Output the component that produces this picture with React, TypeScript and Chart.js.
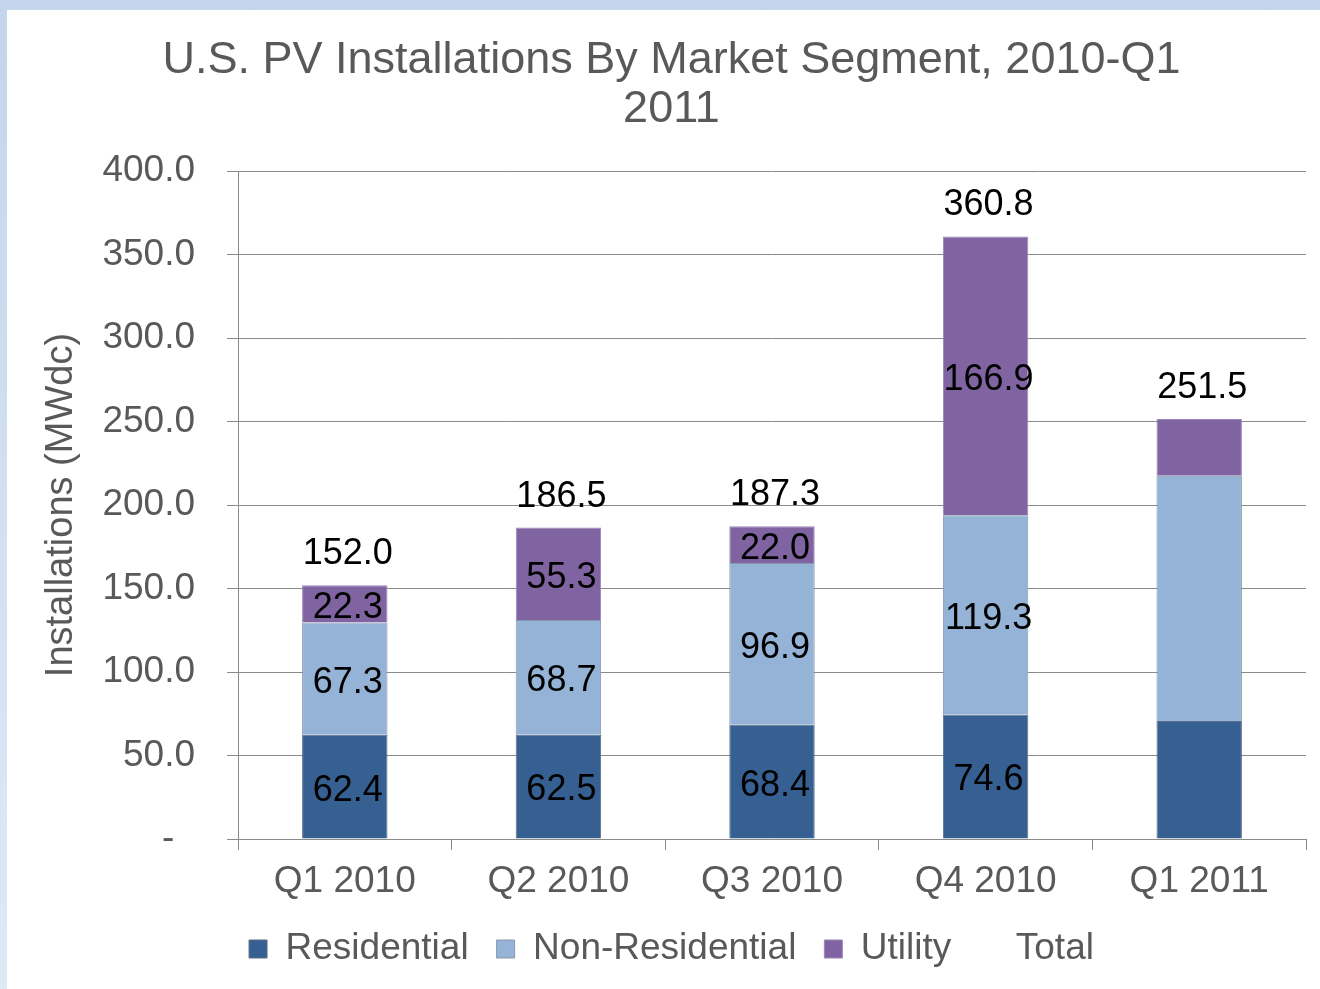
import React, { useEffect, useRef } from 'react';
import { Chart, registerables } from 'chart.js';

Chart.register(...registerables);

const categories = ['Q1 2010', 'Q2 2010', 'Q3 2010', 'Q4 2010', 'Q1 2011'];
const residential = [62.4, 62.5, 68.4, 74.6, 70.6];
const nonResidential = [67.3, 68.7, 96.9, 119.3, 147.0];
const utility = [22.3, 55.3, 22.0, 166.9, 33.9];
const totals = [152.0, 186.5, 187.3, 360.8, 251.5];
const segmentLabelShown = [true, true, true, true, false];
const yTickValues = [0, 50, 100, 150, 200, 250, 300, 350, 400];
const yTickLabels = ['-  ', '50.0', '100.0', '150.0', '200.0', '250.0', '300.0', '350.0', '400.0'];

const FONT = '"Liberation Sans", Arial, sans-serif';
const GRAY_TEXT = '#595959';
const GRID = '#8a8a8a';

const labelPlugin = {
  id: 'segLabels',
  afterDatasetsDraw(chart: any) {
    const ctx = chart.ctx;
    ctx.save();
    ctx.font = `36px ${FONT}`;
    ctx.fillStyle = '#000000';
    ctx.textAlign = 'center';
    ctx.textBaseline = 'middle';
    [0, 1, 2].forEach((di) => {
      const meta = chart.getDatasetMeta(di);
      meta.data.forEach((el: any, i: number) => {
        if (!segmentLabelShown[i]) return;
        const p = el.getProps(['x', 'y', 'base'], true);
        const v = chart.data.datasets[di].data[i] as number;
        ctx.fillText(v.toFixed(1), p.x + 3, (p.y + p.base) / 2 + 4);
      });
    });
    const tm = chart.getDatasetMeta(3);
    tm.data.forEach((el: any, i: number) => {
      ctx.fillText(totals[i].toFixed(1), el.x + 3, el.y - 31);
    });
    ctx.restore();
  },
};

export default function App() {
  const ref = useRef<HTMLCanvasElement | null>(null);

  useEffect(() => {
    if (!ref.current) return;
    const chart = new Chart(ref.current, {
      type: 'bar',
      data: {
        labels: categories,
        datasets: [
          {
            label: 'Residential',
            data: residential,
            backgroundColor: '#376092',
            borderColor: '#5a6f8a',
            borderWidth: 1,
            stack: 'seg',
          },
          {
            label: 'Non-Residential',
            data: nonResidential,
            backgroundColor: '#95b3d7',
            borderColor: '#8797ad',
            borderWidth: 1,
            stack: 'seg',
          },
          {
            label: 'Utility',
            data: utility,
            backgroundColor: '#8064a2',
            borderColor: '#9c86bb',
            borderWidth: 1,
            stack: 'seg',
          },
          {
            type: 'line',
            label: 'Total',
            data: totals,
            showLine: false,
            pointRadius: 0,
            pointHoverRadius: 0,
            backgroundColor: 'rgba(0,0,0,0)',
            borderColor: 'rgba(0,0,0,0)',
            borderWidth: 0,
            stack: 'total',
          } as any,
        ],
      },
      options: {
        responsive: false,
        animation: false,
        layout: { padding: { left: 30, right: 14, top: 0, bottom: 11.5 } },
        datasets: {
          bar: { categoryPercentage: 1, barPercentage: 0.4 },
        },
        plugins: {
          tooltip: { enabled: false },
          title: {
            display: true,
            text: ['U.S. PV Installations By Market Segment, 2010-Q1', '2011'],
            color: GRAY_TEXT,
            font: { family: FONT, size: 45, weight: 'normal', lineHeight: 1.09 },
            padding: { top: 26.5, bottom: 36.5 },
          },
          legend: {
            position: 'bottom',
            labels: {
              color: GRAY_TEXT,
              font: { family: FONT, size: 37 },
              boxWidth: 18,
              boxHeight: 18,
              padding: 28,
            },
          },
        },
        scales: {
          x: {
            stacked: true,
            offset: true,
            grid: {
              offset: true,
              drawOnChartArea: false,
              drawTicks: true,
              tickLength: 11,
              color: GRID,
            },
            border: { display: true, color: GRID },
            ticks: {
              color: GRAY_TEXT,
              font: { family: FONT, size: 37 },
              padding: 10,
              maxRotation: 0,
            },
            afterFit: (s: any) => {
              s.height = 63.5;
            },
          },
          y: {
            stacked: true,
            min: 0,
            max: 400,
            grid: { color: GRID, drawTicks: true, tickLength: 11 },
            border: { display: true, color: GRID },
            ticks: {
              stepSize: 50,
              color: GRAY_TEXT,
              font: { family: FONT, size: 37 },
              padding: 32,
              callback: (v: any) => {
                const idx = yTickValues.indexOf(Number(v));
                return idx >= 0 ? yTickLabels[idx] : '';
              },
            },
            title: {
              display: true,
              text: 'Installations (MWdc)',
              color: GRAY_TEXT,
              font: { family: FONT, size: 38 },
              padding: { top: 2, bottom: 0 },
            },
            afterFit: (s: any) => {
              s.width = 201;
            },
          },
        },
      },
      plugins: [labelPlugin],
    });
    return () => chart.destroy();
  }, []);

  return (
    <div
      style={{
        position: 'fixed',
        left: 0,
        top: 0,
        width: 1320,
        height: 989,
        background: 'linear-gradient(180deg, #c4d5ec 0%, #d3e2f3 60%, #dce9f7 100%)',
      }}
    >
      <div
        style={{
          position: 'absolute',
          left: 7,
          top: 10,
          width: 1313,
          height: 979,
          background: '#ffffff',
        }}
      >
        <canvas ref={ref} width={1313} height={979} style={{ display: 'block' }} />
      </div>
    </div>
  );
}
